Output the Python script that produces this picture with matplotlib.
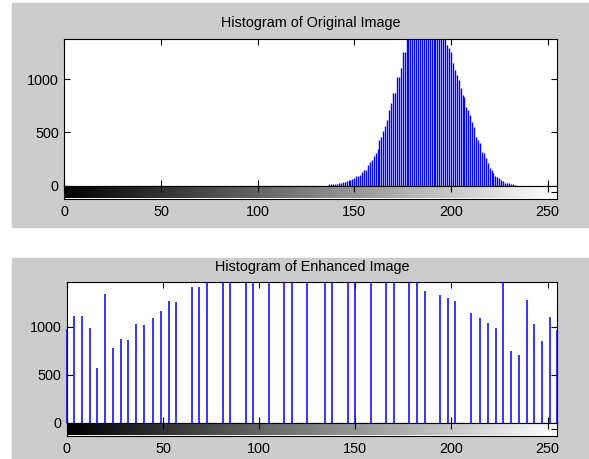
import numpy as np
import matplotlib
matplotlib.use('Agg')
import matplotlib.pyplot as plt
from matplotlib.patches import Rectangle

plt.rcParams['font.family'] = ['Liberation Sans', 'DejaVu Sans']
plt.rcParams['font.size'] = 10.4

# original image histogram (gray levels 137..233)
orig_levels = np.arange(137, 234)
orig_counts = [13, 13, 13, 19, 19, 25, 25, 31, 38, 44,
               51, 56, 62, 72, 88, 94, 103, 126, 144, 150,
               194, 225, 238, 281, 310, 341, 429, 460, 516, 563,
               616, 710, 773, 867, 867, 1022, 1022, 1101, 1257, 1257,
               1420, 1480, 1530, 1600, 1650, 1700, 1740, 1770, 1790, 1800,
               1800, 1790, 1760, 1720, 1680, 1630, 1580, 1520, 1470, 1420,
               1390,
               1320, 1289, 1257, 1148, 1085, 1038, 991, 913, 851, 835,
               741, 710, 663, 600, 553, 460, 429, 398, 319, 304,
               257, 210, 169, 147, 116, 94, 84, 70, 53, 40,
               28, 25, 22, 13, 16, 6]

# enhanced (equalized) image histogram
enh_levels = [0, 4, 8, 12, 16, 20, 24, 28, 32, 36, 40, 45, 49, 53, 57,
              65, 69, 73, 81, 85, 93, 97, 105, 113, 117,
              125, 134, 138, 146, 150, 158, 166, 170, 178, 182, 186,
              194, 198, 202, 210, 215, 219, 223, 227, 231, 235,
              239, 243, 247, 251, 255]
enh_counts = [980, 1118, 1118, 986, 569, 1340, 778, 875, 865, 1028, 1017,
              1097, 1163, 1274, 1264, 1417, 1417, 1470, 1470, 1470, 1470,
              1470, 1470, 1470, 1470,
              1470, 1470, 1470, 1470, 1470, 1470, 1470, 1470, 1470, 1470, 1375,
              1330, 1302, 1267, 1146, 1090, 1045, 990, 1470, 747, 712,
              1278, 1030, 856, 1100, 968]

titles = ['Histogram of Original Image', 'Histogram of Enhanced Image']
ylims = [1376, 1470]
W, H = 589, 459

fig = plt.figure(figsize=(W / 100, H / 100), dpi=100)
fig.patch.set_facecolor('white')

# gray panels behind each subplot
fig.add_artist(Rectangle((12 / W, (H - 227) / H), (W - 12) / W, 224 / H,
                         transform=fig.transFigure, color='#cccccc', zorder=0))
fig.add_artist(Rectangle((12 / W, 0), (W - 12) / W, (H - 258) / H,
                         transform=fig.transFigure, color='#cccccc', zorder=0))

# pixel boxes: left, right, top, bottom of histogram axes, colorbar bottom
boxes = [(64.3, 557.3, 39, 185.7, 198.5), (66.7, 557.3, 282, 422.7, 435.5)]
data = [(orig_levels, orig_counts, 1.0), (enh_levels, enh_counts, 1.1)]

grad = np.linspace(0, 1, 256).reshape(1, -1)
for i in range(2):
    l, r, t, b, cb = boxes[i]
    ax = fig.add_axes([l / W, (H - b) / H, (r - l) / W, (b - t) / H])
    cax = fig.add_axes([l / W, (H - cb) / H, (r - l) / W, (cb - b) / H])

    x, y, lw = data[i]
    ax.set_xlim(0, 255)
    ax.set_ylim(0, ylims[i])
    y_clip = np.minimum(y, ylims[i])
    ax.vlines(x, 0, y_clip, color='#0000ff', lw=lw, clip_on=False, zorder=3)
    ax.set_xticks(range(0, 251, 50))
    ax.set_yticks([0, 500, 1000])
    ax.tick_params(direction='in', length=4, width=0.8, top=True, right=True,
                   labelbottom=False, pad=4, labelsize=10.4)
    ax.set_title(titles[i], fontsize=10.4, pad=8.5 if i == 0 else 8)
    for s in ax.spines.values():
        s.set_linewidth(0.8)

    cax.imshow(grad, cmap='gray', aspect='auto', extent=[0, 255, 0, 1],
               interpolation='bilinear')
    cax.set_xlim(0, 255)
    cax.set_ylim(0, 1)
    cax.set_xticks(range(0, 251, 50))
    cax.set_yticks([0.5])
    cax.set_yticklabels([])
    cax.tick_params(axis='x', direction='in', length=4, width=0.8, top=True,
                    bottom=False, labelbottom=True, pad=4.5, labelsize=10.4)
    cax.tick_params(axis='y', direction='in', length=4, width=0.8, right=True)
    for s in cax.spines.values():
        s.set_linewidth(0.8)

fig.savefig('out.png', dpi=100)
